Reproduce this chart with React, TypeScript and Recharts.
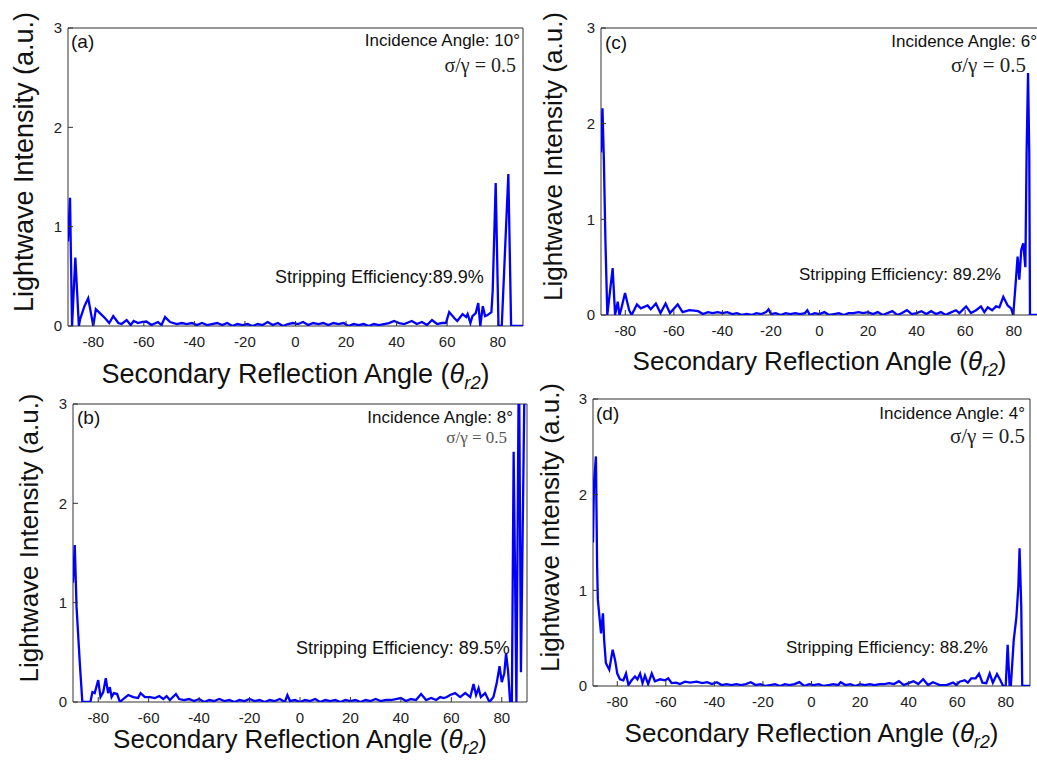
import React from 'react';
import { LineChart, Line, XAxis, YAxis, ReferenceArea, Label } from 'recharts';

// ---------- data ----------
const xTicks = [-80, -60, -40, -20, 0, 20, 40, 60, 80];
const yTicks = [0, 1, 2, 3];

// (a) incidence 10°
const aAngles = [
  -90, -89.2, -88.4, -87.1, -85.7, -85.2, -83.5, -82, -80, -79,
  -77.4, -75.4, -73.7, -72.1, -70.1, -68.8, -66.8, -65.2, -64, -62.3,
  -61, -59, -57, -54.4, -53, -51.6, -49.6, -47, -45, -43,
  -41, -39, -37, -35, -33, -31, -29, -27, -25, -23,
  -21, -19, -17, -15, -13, -11, -9, -7, -5, -3,
  -1, 1, 3, 5, 7, 9, 11, 13, 15, 17,
  19, 21, 23, 25, 27, 29, 31, 33, 35, 37,
  39, 41, 43, 45, 46, 48, 50, 52, 54, 56,
  58, 59.5, 60.8, 62.8, 64, 66.1, 67.5, 68.1, 69.2, 70,
  71.3, 72.3, 73.1, 74.1, 75, 76, 77, 77.5, 78, 79.2,
  80.3, 81.6, 84.2, 85.3, 90,
];
const aValues = [
  0.85, 1.29, 0.0, 0.69, 0.0, 0.07, 0.2, 0.28, 0.0, 0.17,
  0.13, 0.08, 0.03, 0.1, 0.03, 0.02, 0.06, 0.01, 0.05, 0.03,
  0.04, 0.045, 0.01, 0.04, 0.01, 0.09, 0.04, 0.02, 0.03, 0.02,
  0.03, 0.01, 0.03, 0.01, 0.02, 0.03, 0.01, 0.03, 0.0, 0.02,
  0.01, 0.02, 0.0, 0.02, 0.01, 0.04, 0.01, 0.03, 0.0, 0.02,
  0.03, 0.02, 0.04, 0.01, 0.03, 0.02, 0.03, 0.01, 0.03, 0.02,
  0.03, 0.0, 0.02, 0.01, 0.02, 0.0, 0.02, 0.01, 0.02, 0.03,
  0.05, 0.03, 0.02, 0.04, 0.05, 0.02, 0.04, 0.01, 0.06, 0.02,
  0.03, 0.03, 0.14, 0.08, 0.05, 0.12, 0.09, 0.12, 0.03, 0.1,
  0.13, 0.23, 0.0, 0.2, 0.1, 0.11, 0.13, 0.14, 0.35, 1.44,
  0.0, 0.0, 1.53, 0.0, 0.0,
];

// (b) incidence 8°
const bAngles = [
  -90, -89.3, -88.6, -87.3, -86.3, -83.1, -82.3, -81.4, -80, -79.1,
  -78, -77, -76.1, -75.4, -74.7, -73.8, -72.5, -71.4, -70.1, -68.1,
  -66.1, -64.2, -63.2, -61.5, -59.5, -57.5, -55.8, -54.2, -52.9, -51.6,
  -49.2, -47.9, -46, -44, -42, -40, -38, -36, -34, -32,
  -30, -28, -26, -24, -22, -20, -18, -16, -14, -12,
  -10, -8, -6, -5, -4, -2, 0, 2, 4, 6,
  8, 10, 12, 14, 16, 18, 20, 22, 24, 26,
  28, 30, 32, 34, 36, 38, 40, 42, 44, 46,
  48, 50, 52, 54, 55.6, 57, 58.2, 59.5, 61.5, 63.5,
  65.5, 67.5, 68.8, 69.8, 70.8, 71.7, 73.4, 75.1, 76.7, 78,
  79.1, 80, 81, 81.7, 82.5, 83.3, 84, 84.7, 85.3, 85.8,
  86.8, 87.6, 89.2, 90,
];
const bValues = [
  1.2, 1.58, 0.96, 0.39, 0.0, 0.0, 0.1, 0.09, 0.22, 0.05,
  0.1, 0.24, 0.09, 0.15, 0.05, 0.09, 0.08, 0.0, 0.03, 0.07,
  0.05, 0.04, 0.09, 0.05, 0.05, 0.04, 0.06, 0.03, 0.06, 0.02,
  0.08, 0.03, 0.02, 0.03, 0.01, 0.03, 0.0, 0.02, 0.01, 0.03,
  0.01, 0.02, 0.0, 0.02, 0.01, 0.03, 0.01, 0.02, 0.0, 0.02,
  0.01, 0.03, 0.0, 0.07, 0.01, 0.02, 0.0, 0.02, 0.01, 0.03,
  0.0, 0.02, 0.01, 0.02, 0.0, 0.02, 0.01, 0.02, 0.0, 0.02,
  0.01, 0.03, 0.01, 0.02, 0.02, 0.03, 0.04, 0.01, 0.03, 0.02,
  0.08, 0.02, 0.04, 0.02, 0.05, 0.04, 0.05, 0.07, 0.09, 0.05,
  0.09, 0.05, 0.18, 0.07, 0.14, 0.05, 0.09, 0.0, 0.05, 0.19,
  0.36, 0.2, 0.29, 0.49, 0.31, 0.0, 0.0, 2.52, 1.2, 0.0,
  3.6, 0.3, 3.6, 3.6,
];

// (c) incidence 6°
const cAngles = [
  -90, -89.4, -88.8, -88.2, -87.4, -85.2, -84.2, -83.1, -82.4, -81.8,
  -80.1, -78.4, -77.4, -75.2, -73.6, -70.8, -69.5, -67.4, -65.5, -63.4,
  -61.6, -58.4, -56.4, -53.6, -51.6, -50, -48, -46, -44, -42,
  -40, -38, -36, -34, -32, -30, -28, -26, -24, -22,
  -21, -20, -18, -16, -14, -12, -10, -8, -6, -5,
  -4, -2, 0, 2, 4, 6, 8, 10, 12, 14,
  16, 18, 20, 22, 24, 26, 28, 30, 32, 34,
  36, 38, 40, 42, 44, 46, 48, 50, 52, 53.5,
  56.2, 57.6, 60.4, 62.4, 64.5, 66.5, 67.9, 69.3, 71.1, 72.7,
  74.1, 75.7, 77.5, 78.9, 79.8, 80.7, 81.6, 82.3, 83.1, 83.9,
  84.8, 85.3, 85.9, 86.4, 86.7, 90,
];
const cValues = [
  1.7, 2.16, 1.6, 0.8, 0.0, 0.49, 0.0, 0.14, 0.0, 0.05,
  0.23, 0.05, 0.0, 0.11, 0.07, 0.1, 0.06, 0.12, 0.02, 0.12,
  0.02, 0.11, 0.03, 0.05, 0.045, 0.04, 0.01, 0.03, 0.02, 0.03,
  0.02, 0.03, 0.01, 0.02, 0.0, 0.01, 0.0, 0.02, 0.01, 0.03,
  0.06, 0.01, 0.02, 0.0, 0.02, 0.01, 0.02, 0.01, 0.02, 0.05,
  0.0, 0.02, 0.01, 0.03, 0.0, 0.01, 0.02, 0.0, 0.02, 0.02,
  0.03, 0.02, 0.03, 0.01, 0.03, 0.0, 0.02, 0.04, 0.0, 0.02,
  0.05, 0.01, 0.02, 0.04, 0.01, 0.04, 0.01, 0.03, 0.0, 0.02,
  0.05, 0.02, 0.09, 0.02, 0.05, 0.09, 0.03, 0.08, 0.05, 0.09,
  0.08, 0.19, 0.1, 0.07, 0.0, 0.3, 0.61, 0.37, 0.68, 0.75,
  0.5, 1.69, 2.53, 1.69, 0.0, 0.0,
];

// (d) incidence 4°
const dAngles = [
  -90, -89.6, -88.8, -88.3, -88, -86.7, -85.9, -85.4, -84.7, -83.3,
  -81.9, -80.9, -80, -78.9, -77.5, -76.4, -75.4, -74.1, -72.7, -71.7,
  -70.6, -69.6, -68.6, -67.3, -65.8, -64.5, -62.4, -60.3, -59, -57.6,
  -55.8, -54.2, -52.1, -50, -47.3, -45, -43, -41, -39, -37,
  -35, -33, -31, -29, -27, -25, -23, -21, -19, -17,
  -15, -13, -11, -9, -7, -5, -3, -1, 1, 3,
  5, 7, 9, 11, 12, 14, 16, 18, 20, 22,
  24, 26, 28, 30, 32, 34, 36, 38, 40, 42,
  44, 46, 48, 50, 52.8, 55.6, 58.3, 59.7, 61, 63.1,
  64.4, 65.8, 67.6, 69, 70.4, 72, 73.4, 74.7, 76.4, 77.8,
  78.9, 80, 80.8, 81.6, 82.1, 83.3, 84.4, 85.2, 85.7, 86.4,
  86.8, 90,
];
const dValues = [
  1.5, 2.12, 2.4, 1.25, 0.9, 0.55, 0.76, 0.48, 0.24, 0.17,
  0.38, 0.27, 0.13, 0.07, 0.06, 0.13, 0.01, 0.06, 0.1, 0.07,
  0.13, 0.03, 0.11, 0.02, 0.13, 0.05, 0.07, 0.06, 0.08, 0.03,
  0.035, 0.02, 0.045, 0.035, 0.045, 0.03, 0.04, 0.02, 0.04, 0.01,
  0.02, 0.01, 0.02, 0.01, 0.02, 0.04, 0.01, 0.02, 0.0, 0.01,
  0.02, 0.0, 0.02, 0.01, 0.02, 0.04, 0.0, 0.02, 0.01, 0.02,
  0.0, 0.01, 0.02, 0.01, 0.04, 0.01, 0.02, 0.0, 0.02, 0.01,
  0.02, 0.01, 0.02, 0.02, 0.03, 0.02, 0.05, 0.01, 0.03, 0.05,
  0.02, 0.07, 0.01, 0.04, 0.01, 0.01, 0.035, 0.01, 0.045, 0.06,
  0.035, 0.08, 0.08, 0.13, 0.035, 0.03, 0.13, 0.035, 0.125, 0.06,
  0.0, 0.0, 0.43, 0.0, 0.0, 0.48, 0.72, 1.04, 1.44, 0.83,
  0.0, 0.0,
];

const panelTags = ['(a)', '(b)', '(c)', '(d)'];
const incidenceLabels = ['Incidence Angle: 10°', 'Incidence Angle: 8°', 'Incidence Angle: 6°', 'Incidence Angle: 4°'];
const efficiencyLabels = ['Stripping Efficiency:89.9%', 'Stripping Efficiency: 89.5%', 'Stripping Efficiency: 89.2%', 'Stripping Efficiency: 88.2%'];
const ratioLabel = 'σ/γ = 0.5';

// ---------- layout / style ----------
const SANS = '"Liberation Sans", Arial, Helvetica, sans-serif';
const SERIF = '"Liberation Serif", "Times New Roman", serif';

type Cfg = {
  angles: number[];
  values: number[];
  idx: number;
  x0: number; y0: number; x1: number; y1: number;
  axisFont: number;
  xLabDy: number;
  yLabOff: number;
  tag: [number, number];
  inc: [number, number];
  ratio: [number, number, number, string];
  eff: [number, number, number];
};

const L = 68, T = 28, R = 10, B = 80;

function Panel({ cfg }: { cfg: Cfg }) {
  const pw = cfg.x1 - cfg.x0;
  const ph = cfg.y1 - cfg.y0;
  const width = pw + L + R;
  const height = ph + T + B;
  const data = cfg.angles.map((a, i) => ({ x: a, y: cfg.values[i] }));

  const xLab = (p: any) => {
    const vb = p.viewBox || {};
    const cx = vb.x + vb.width / 2;
    const by = vb.y + cfg.xLabDy;
    return (
      <text x={cx} y={by} textAnchor="middle" fontSize={cfg.axisFont} fontFamily={SANS} fill="#111">
        Secondary Reflection Angle (<tspan fontStyle="italic">θ</tspan>
        <tspan fontStyle="italic" fontSize={cfg.axisFont * 0.68} dy={6}>r2</tspan>
        <tspan dy={-6}>)</tspan>
      </text>
    );
  };

  const yLab = (p: any) => {
    const vb = p.viewBox || {};
    const bx = vb.x + vb.width - cfg.yLabOff;
    const cy = vb.y + vb.height / 2 - 15;
    return (
      <text x={bx} y={cy} transform={`rotate(-90 ${bx} ${cy})`} textAnchor="middle" fontSize={cfg.axisFont} fontFamily={SANS} fill="#111">
        Lightwave Intensity (a.u.)
      </text>
    );
  };

  const annotations = (p: any) => {
    const vb = p.viewBox || {};
    const left = vb.x;
    const top = vb.y;
    const right = vb.x + vb.width;
    return (
      <g>
        <text x={left + cfg.tag[0]} y={top + cfg.tag[1]} fontSize={19} fontFamily={SANS} fill="#111">
          {panelTags[cfg.idx]}
        </text>
        <text x={right + cfg.inc[0]} y={top + cfg.inc[1]} textAnchor="end" fontSize={17} fontFamily={SANS} fill="#111">
          {incidenceLabels[cfg.idx]}
        </text>
        <text x={right + cfg.ratio[0]} y={top + cfg.ratio[1]} textAnchor="end" fontSize={cfg.ratio[2]} fontFamily={SERIF} fill={cfg.ratio[3]}>
          {ratioLabel}
        </text>
        <text x={left + cfg.eff[0]} y={top + cfg.eff[1]} fontSize={cfg.eff[2]} fontFamily={SANS} fill="#111">
          {efficiencyLabels[cfg.idx]}
        </text>
      </g>
    );
  };

  return (
    <div style={{ position: 'absolute', left: cfg.x0 - L, top: cfg.y0 - T, width, height }}>
      <LineChart width={width} height={height} data={data} margin={{ top: T, right: R, bottom: 0, left: 0 }}>
        <XAxis
          type="number"
          dataKey="x"
          domain={[-90, 90]}
          ticks={xTicks}
          interval={0}
          allowDataOverflow
          height={B}
          axisLine={false}
          tickSize={-5}
          tickMargin={15}
          tickLine={{ stroke: '#333' }}
          tick={{ fontSize: 15, fill: '#222', fontFamily: SANS }}
        >
          <Label content={xLab} />
        </XAxis>
        <YAxis
          type="number"
          domain={[0, 3]}
          ticks={yTicks}
          interval={0}
          allowDataOverflow
          width={L}
          axisLine={false}
          tickSize={-5}
          tickMargin={11}
          tickLine={{ stroke: '#333' }}
          tick={{ fontSize: 15, fill: '#222', fontFamily: SANS }}
        >
          <Label content={yLab} />
        </YAxis>
        <ReferenceArea x1={-90} x2={90} y1={0} y2={3} fill="none" fillOpacity={0} stroke="#333" strokeWidth={1} ifOverflow="visible">
          <Label content={annotations} />
        </ReferenceArea>
        <Line type="linear" dataKey="y" stroke="#0000ff" strokeWidth={2.3} dot={false} isAnimationActive={false} />
      </LineChart>
    </div>
  );
}

const panels: Cfg[] = [
  {
    angles: aAngles, values: aValues, idx: 0,
    x0: 68, y0: 28, x1: 523, y1: 326, axisFont: 27, xLabDy: 57, yLabOff: 35,
    tag: [3, 20], inc: [-3, 18], ratio: [-7, 44, 20, '#222'], eff: [207, 255, 18],
  },
  {
    angles: bAngles, values: bValues, idx: 1,
    x0: 73, y0: 404, x1: 527, y1: 702, axisFont: 26, xLabDy: 46, yLabOff: 35,
    tag: [4, 20], inc: [-14, 19], ratio: [-20, 39, 17, '#555'], eff: [223, 250, 18],
  },
  {
    angles: cAngles, values: cValues, idx: 2,
    x0: 601, y0: 28, x1: 1038, y1: 315, axisFont: 26, xLabDy: 55, yLabOff: 39,
    tag: [4, 21], inc: [-1, 19], ratio: [-12, 44, 21, '#222'], eff: [198, 252, 17],
  },
  {
    angles: dAngles, values: dValues, idx: 3,
    x0: 593, y0: 399, x1: 1030, y1: 686, axisFont: 26, xLabDy: 56, yLabOff: 34,
    tag: [3, 21], inc: [-5, 20], ratio: [-5, 44, 21, '#222'], eff: [193, 254, 17],
  },
];

export default function App() {
  return (
    <div style={{ position: 'absolute', left: 0, top: 0, width: 1037, height: 762, overflow: 'hidden', background: '#fff' }}>
      {panels.map((p) => (
        <Panel key={p.idx} cfg={p} />
      ))}
    </div>
  );
}
